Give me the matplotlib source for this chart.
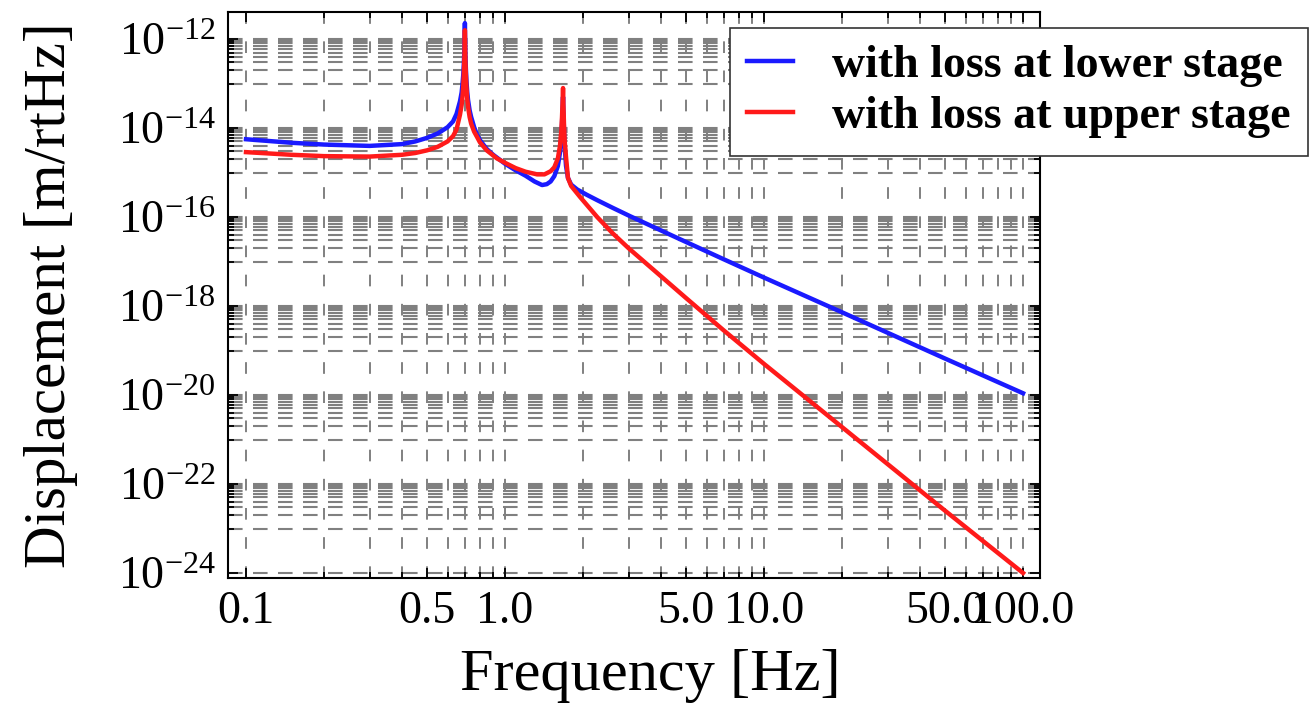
import matplotlib
matplotlib.use("Agg")
import matplotlib.pyplot as plt
import numpy as np
from matplotlib.ticker import FixedLocator, NullFormatter

plt.rcParams['font.family'] = ['Liberation Serif', 'DejaVu Serif']
plt.rcParams['mathtext.fontset'] = 'custom'
plt.rcParams['mathtext.rm'] = 'Liberation Serif'

# values (frequency in Hz, log10 of displacement in m/rtHz)
freq_lower = [0.1, 0.15, 0.2, 0.3, 0.4, 0.45, 0.5, 0.55, 0.6, 0.63, 0.65, 0.67, 0.68, 0.685,
              0.69, 0.694, 0.697, 0.699, 0.70, 0.701, 0.703, 0.706, 0.71, 0.715, 0.72, 0.73,
              0.74, 0.76, 0.78, 0.8, 0.85, 0.9, 1.0, 1.1, 1.2, 1.3, 1.39, 1.45, 1.5, 1.55,
              1.6, 1.63, 1.65, 1.66, 1.67, 1.675, 1.68, 1.69, 1.7, 1.72, 1.75, 1.8, 1.9,
              2.07, 2.27, 2.6, 3.04, 4.0, 5.0, 7.0, 10.0, 20.0, 50.0, 100.0]
log_lower = [-14.25, -14.33, -14.37, -14.40, -14.36, -14.3, -14.22, -14.12, -13.98, -13.85, -13.68, -13.4, -13.2, -13.02,
             -12.8, -12.52, -12.2, -11.85, -11.64, -11.9, -12.3, -12.65, -12.95, -13.2, -13.37, -13.6,
             -13.75, -13.98, -14.15, -14.27, -14.47, -14.6, -14.8, -14.95, -15.07, -15.2, -15.28, -15.26, -15.2, -15.08,
             -14.85, -14.55, -14.2, -13.9, -13.5, -13.3, -13.6, -14.1, -14.4, -14.85, -15.12, -15.27, -15.38,
             -15.5, -15.62, -15.79, -15.98, -16.3, -16.56, -16.95, -17.36, -18.14, -19.18, -19.96]

freq_upper = [0.1, 0.15, 0.2, 0.3, 0.4, 0.45, 0.5, 0.55, 0.6, 0.63, 0.65, 0.67, 0.68, 0.685,
              0.69, 0.694, 0.697, 0.699, 0.70, 0.701, 0.703, 0.706, 0.71, 0.715, 0.72, 0.73,
              0.74, 0.76, 0.78, 0.8, 0.85, 0.93, 1.0, 1.1, 1.2, 1.33, 1.42, 1.5, 1.55,
              1.6, 1.63, 1.65, 1.66, 1.67, 1.675, 1.68, 1.69, 1.7, 1.72, 1.75, 1.8, 1.95,
              2.27, 2.6, 3.0, 4.0, 5.0, 7.0, 10.0, 20.0, 50.0, 100.0]
log_upper = [-14.54, -14.6, -14.63, -14.64, -14.6, -14.56, -14.5, -14.42, -14.3, -14.18, -14.03, -13.7, -13.48, -13.3,
             -13.05, -12.75, -12.4, -12.05, -11.8, -12.05, -12.45, -12.8, -13.1, -13.35, -13.52, -13.75,
             -13.9, -14.08, -14.2, -14.32, -14.5, -14.68, -14.78, -14.9, -14.98, -15.04, -15.04, -14.97, -14.88,
             -14.68, -14.4, -14.05, -13.75, -13.35, -13.1, -13.45, -13.95, -14.3, -14.65, -15.12, -15.3, -15.55,
             -16.0, -16.36, -16.7, -17.33, -17.82, -18.55, -19.3, -20.72, -22.6, -24.0]

labels = ['with loss at lower stage', 'with loss at upper stage']
colors = ['#1a1aff', '#ff1a1a']

x_major = [0.1, 0.5, 1.0, 5.0, 10.0, 50.0, 100.0]
x_major_labels = ['0.1', '0.5', '1.0', '5.0', '10.0', '50.0', '100.0']
y_major_exp = [-12, -14, -16, -18, -20, -22, -24]

fig = plt.figure(figsize=(13.14, 7.18), dpi=100)
ax = fig.add_axes([0.1735, 0.195, 0.618, 0.7885])

ax.set_xscale('log')
ax.set_yscale('log')
ax.set_xlim(0.0852, 116.3)
ax.set_ylim(10 ** -24.112, 10 ** -11.387)

# grid positions like the original (every m*10^k on x, only the odd decades on y)
x_grid = [m * 10.0 ** k for k in (-1, 0, 1) for m in range(1, 10)] + [100.0]
y_minor = [m * 10.0 ** k for k in (-13, -15, -17, -19, -21, -23) for m in range(1, 10)]
y_major = [10.0 ** e for e in y_major_exp]

for gx in x_grid:
    ax.axvline(gx, color='#808080', lw=1.4, ls=(0, (6, 9)), zorder=0)
for gy in y_minor + y_major:
    ax.axhline(gy, color='#808080', lw=1.5, ls=(0, (7, 5)), zorder=0)

ax.plot(freq_lower, np.power(10.0, log_lower), color=colors[0], lw=3.2, label=labels[0])
ax.plot(freq_upper, np.power(10.0, log_upper), color=colors[1], lw=3.2, label=labels[1])

ax.xaxis.set_major_locator(FixedLocator(x_major))
ax.set_xticklabels(x_major_labels)
ax.xaxis.set_minor_locator(FixedLocator([g for g in x_grid if g not in x_major]))
ax.xaxis.set_minor_formatter(NullFormatter())

ax.yaxis.set_major_locator(FixedLocator(y_major))
ax.set_yticklabels([r'$\mathregular{10^{%d}}$' % e for e in y_major_exp])
ax.yaxis.set_minor_locator(FixedLocator(y_minor))
ax.yaxis.set_minor_formatter(NullFormatter())

ax.tick_params(which='both', direction='in', top=True, right=True, width=1.3, colors='black')
ax.tick_params(which='major', length=7, labelsize=33, pad=9)
ax.tick_params(which='minor', length=4)
for s in ax.spines.values():
    s.set_linewidth(1.5)

ax.set_xlabel('Frequency [Hz]', fontsize=43.5)
ax.set_ylabel('Displacement [m/rtHz]', fontsize=42.5)
ax.xaxis.set_label_coords(0.52, -0.125)
ax.yaxis.set_label_coords(-0.185, 0.5)

leg = ax.legend(loc='upper left', bbox_to_anchor=(0.618, 0.972), borderaxespad=0,
                fancybox=False, framealpha=1, edgecolor='#333333',
                prop={'weight': 'bold', 'size': 33}, handlelength=1.0,
                handletextpad=0.85, borderpad=0.38, labelspacing=0.2)
leg.get_frame().set_linewidth(1.2)

fig.savefig('out.png', dpi=100)
